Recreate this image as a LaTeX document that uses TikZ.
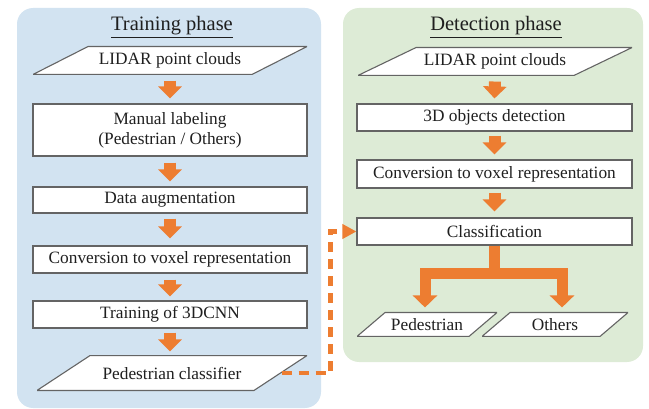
\documentclass[tikz,border=0pt]{standalone}
\usepackage{fontspec}
\setmainfont{Liberation Serif}
\usepackage{tikz}
\usetikzlibrary{arrows.meta}
\definecolor{trainbg}{RGB}{210,227,241}
\definecolor{detectbg}{RGB}{221,235,214}
\definecolor{flowor}{RGB}{237,125,49}
\definecolor{edgegray}{RGB}{100,100,100}

\begin{document}
\begin{tikzpicture}[
  x=1pt, y=-1pt,
  font=\fontsize{17.3pt}{20pt}\selectfont,
  text=black!88,
  panel/.style={rounded corners=16pt, inner sep=0pt},
  item/.style={draw=edgegray, line width=1.1pt, fill=white, align=center,
               minimum width=274pt, inner sep=0pt},
  slantbox/.style={item, draw=none, fill=none,
    path picture={\draw[draw=edgegray, line width=1.1pt, fill=white]
      ([xshift=#1, yshift=-0.55pt]path picture bounding box.north west)
      -- ([yshift=-0.55pt]path picture bounding box.north east)
      -- ([xshift=-#1, yshift=0.55pt]path picture bounding box.south east)
      -- ([yshift=0.55pt]path picture bounding box.south west) -- cycle;}},
  phasetitle/.style={font=\fontsize{20.5pt}{24pt}\selectfont, anchor=base},
  flow/.style={flowor, line width=12pt, -{Triangle[length=12pt, width=23pt]}},
  branch/.style={flowor, line width=11pt, line join=miter,
                 -{Triangle[length=12pt, width=24pt]}},
  feed/.style={flowor, line width=4.5pt, dash pattern=on 10pt off 7pt,
               -{Triangle[length=14pt, width=14pt]}},
]
\useasboundingbox (0,0) rectangle (649,409);

\node[panel, fill=trainbg, minimum width=304pt, minimum height=400pt] (trainpanel) at (169,208) {};
\node[panel, fill=detectbg, minimum width=300pt, minimum height=354pt] (detectpanel) at (493,185) {};

\node[phasetitle] (traintitle) at (172,31) {\underline{Training phase}};
\node[slantbox=55pt, minimum height=29pt] (lidarA) at (170,60.5) {LIDAR point clouds};
\node[item, minimum height=52pt] (manual) at (170,130) {Manual labeling\\(Pedestrian / Others)};
\node[item, minimum height=26pt] (augment) at (170,200) {Data augmentation};
\node[item, minimum height=27pt] (voxelA) at (170,259.5) {Conversion to voxel representation};
\node[item, minimum height=27pt] (train) at (170,314.5) {Training of 3DCNN};
\node[slantbox=53pt, minimum width=270pt, minimum height=36pt] (pclass) at (172,373) {Pedestrian classifier};

\node[phasetitle] (detecttitle) at (496,31) {\underline{Detection phase}};
\node[slantbox=58pt, minimum height=29pt] (lidarB) at (495,61.5) {LIDAR point clouds};
\node[item, minimum width=275pt, minimum height=27pt] (detect) at (494.5,117.5) {3D objects detection};
\node[item, minimum width=275pt, minimum height=28pt] (voxelB) at (494.5,174) {Conversion to voxel representation};
\node[item, minimum width=275pt, minimum height=27pt] (class) at (494.5,231.5) {Classification};
\node[slantbox=28pt, minimum width=140pt, minimum height=25pt] (ped) at (427,324.5) {Pedestrian};
\node[slantbox=28pt, minimum width=146pt, minimum height=25pt] (others) at (555,324.5) {Others};

\draw[flow] ([yshift=-5pt]lidarA.south) -- ([yshift=5pt]manual.north);
\draw[flow] ([yshift=-6pt]manual.south) -- ([yshift=5pt]augment.north);
\draw[flow] ([yshift=-5pt]augment.south) -- ([yshift=7pt]voxelA.north);
\draw[flow] ([yshift=-6pt]voxelA.south) -- ([yshift=4pt]train.north);
\draw[flow] ([yshift=-4pt]train.south) -- ([yshift=3pt]train.south |- pclass.north);

\draw[flow] ([yshift=-5pt]lidarB.south) -- ([yshift=5pt]detect.north);
\draw[flow] ([yshift=-4pt]detect.south) -- ([yshift=5pt]voxelB.north);
\draw[flow] ([yshift=-4pt]voxelB.south) -- ([yshift=6pt]class.north);

\draw[branch] (class.south) -- ++(0,27.5) -| ([xshift=-2pt, yshift=4pt]ped.north);
\draw[branch] (class.south) -- ++(0,27.5) -| ([xshift=7pt, yshift=4pt]others.north);

\draw[feed] ([xshift=-26pt]pclass.east) -- ++(49,0) |- (class.west);
\end{tikzpicture}
\end{document}
